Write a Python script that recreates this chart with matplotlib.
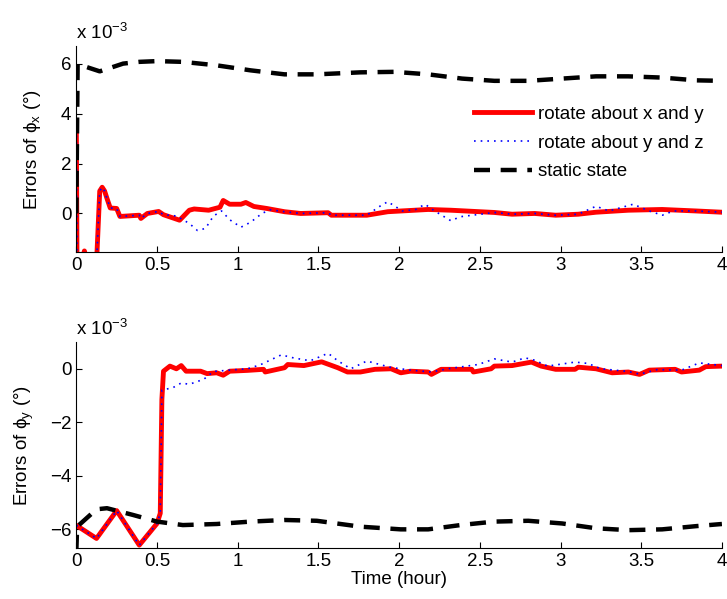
import numpy as np
import matplotlib
matplotlib.use("Agg")
import matplotlib.pyplot as plt

plt.rcParams["font.family"] = ["Liberation Sans", "DejaVu Sans"]
plt.rcParams["mathtext.fontset"] = "custom"
plt.rcParams["mathtext.rm"] = "Liberation Sans"
plt.rcParams["mathtext.it"] = "Liberation Sans:italic"

# --- top panel: errors of phi_x (x 1e-3 deg) ---
tx_red = [0, 0.004, 0.03, 0.05, 0.07, 0.125, 0.145, 0.16, 0.175, 0.19, 0.21, 0.25, 0.27, 0.39, 0.40,
          0.44, 0.51, 0.54, 0.64, 0.70, 0.73, 0.82, 0.89, 0.91, 0.95, 1.02, 1.05, 1.10, 1.18, 1.29,
          1.39, 1.56, 1.58, 1.80, 1.93, 2.18, 2.32, 2.59, 2.70, 2.84, 2.97, 3.11, 3.22, 3.42, 3.63,
          3.84, 4.0]
x_red = [3.65, -2.0, -2.0, -1.5, -2.0, -2.0, 0.9, 1.05, 0.9, 0.6, 0.22, 0.2, -0.12, -0.07, -0.2,
         0.0, 0.08, -0.05, -0.27, 0.13, 0.18, 0.13, 0.25, 0.52, 0.37, 0.37, 0.44, 0.28, 0.2, 0.07,
         0.0, 0.03, -0.07, -0.07, 0.07, 0.16, 0.13, 0.04, -0.03, 0.0, -0.07, -0.03, 0.05, 0.13, 0.16,
         0.1, 0.05]

tx_blue = [0, 0.004, 0.03, 0.05, 0.07, 0.125, 0.145, 0.16, 0.175, 0.19, 0.21, 0.25, 0.27, 0.39, 0.40,
           0.44, 0.51, 0.54, 0.62, 0.70, 0.75, 0.80, 0.85, 0.90, 0.95, 1.02, 1.08, 1.15, 1.20, 1.29,
           1.39, 1.56, 1.58, 1.80, 1.89, 1.93, 2.02, 2.10, 2.16, 2.22, 2.32, 2.38, 2.59, 2.70, 2.84,
           2.97, 3.11, 3.22, 3.30, 3.45, 3.55, 3.63, 3.70, 3.84, 4.0]
x_blue = [3.65, -2.0, -2.0, -1.5, -2.0, -2.0, 0.9, 1.05, 0.9, 0.6, 0.22, 0.2, -0.12, -0.07, -0.2,
          0.0, 0.08, -0.05, -0.1, -0.4, -0.68, -0.6, -0.1, 0.1, -0.25, -0.55, -0.35, 0.0, 0.15, 0.07,
          0.0, 0.03, -0.07, -0.07, 0.33, 0.47, 0.1, 0.15, 0.37, 0.1, -0.29, -0.13, 0.04, -0.03, 0.0,
          -0.07, -0.03, 0.29, 0.1, 0.37, 0.1, -0.07, 0.1, 0.1, 0.05]

tx_static = [0, 0.008, 0.06, 0.145, 0.29, 0.39, 0.5, 0.66, 0.87, 1.08, 1.29, 1.49, 1.76, 1.97, 2.18,
             2.39, 2.59, 2.80, 3.01, 3.22, 3.42, 3.63, 3.84, 4.0]
x_static = [0.0, 6.0, 5.87, 5.69, 6.0, 6.07, 6.1, 6.07, 5.93, 5.73, 5.57, 5.57, 5.65, 5.67, 5.57,
            5.4, 5.31, 5.31, 5.4, 5.49, 5.49, 5.44, 5.33, 5.31]

# --- bottom panel: errors of phi_y (x 1e-3 deg) ---
ty_red = [0, 0.125, 0.25, 0.39, 0.50, 0.52, 0.53, 0.54, 0.58, 0.62, 0.65, 0.68, 0.77, 0.81, 0.87,
          0.91, 0.95, 1.06, 1.16, 1.17, 1.29, 1.31, 1.41, 1.52, 1.62, 1.68, 1.76, 1.85, 1.95, 2.01,
          2.07, 2.18, 2.20, 2.26, 2.45, 2.46, 2.57, 2.59, 2.70, 2.82, 2.88, 2.97, 3.09, 3.11, 3.22,
          3.32, 3.42, 3.49, 3.55, 3.71, 3.75, 3.86, 3.90, 4.0]
y_red = [-5.85, -6.34, -5.3, -6.59, -5.78, -5.4, -1.15, -0.09, 0.1, 0.0, 0.12, -0.09, -0.09, -0.18,
         -0.15, -0.24, -0.09, -0.06, -0.02, -0.12, 0.04, 0.16, 0.12, 0.26, 0.04, -0.12, -0.12, -0.02,
         0.0, -0.15, -0.09, -0.12, -0.21, -0.02, -0.02, -0.12, 0.0, 0.1, 0.12, 0.25, 0.1, -0.02,
         -0.02, 0.06, 0.0, -0.15, -0.12, -0.21, -0.05, -0.02, -0.12, -0.05, 0.08, 0.1]

ty_blue = [0, 0.125, 0.25, 0.39, 0.50, 0.52, 0.53, 0.6, 0.65, 0.70, 0.79, 0.85, 0.95, 1.06, 1.14,
           1.27, 1.35, 1.45, 1.56, 1.62, 1.70, 1.80, 1.88, 1.95, 2.07, 2.20, 2.30, 2.49, 2.59, 2.70,
           2.78, 2.84, 2.92, 3.09, 3.17, 3.25, 3.42, 3.49, 3.60, 3.75, 3.86, 4.0]
y_blue = [-5.85, -6.34, -5.3, -6.59, -5.78, -5.4, -0.8, -0.7, -0.53, -0.58, -0.39, -0.1, -0.05, 0.0,
          0.15, 0.52, 0.4, 0.3, 0.58, 0.3, 0.0, 0.29, 0.16, 0.05, -0.05, -0.12, 0.0, 0.16, 0.37,
          0.25, 0.41, 0.32, 0.1, 0.25, 0.2, 0.0, -0.1, -0.2, -0.03, -0.05, 0.22, 0.12]

ty_static = [0, 0.005, 0.125, 0.19, 0.35, 0.50, 0.66, 0.87, 1.08, 1.29, 1.49, 1.76, 2.01, 2.18,
             2.38, 2.59, 2.80, 3.01, 3.22, 3.42, 3.63, 3.84, 4.0]
y_static = [-6.8, -5.9, -5.25, -5.21, -5.46, -5.71, -5.84, -5.8, -5.71, -5.65, -5.68, -5.9, -6.0,
            -6.0, -5.84, -5.71, -5.68, -5.78, -5.96, -6.03, -6.0, -5.88, -5.8]

labels = ["rotate about x and y", "rotate about y and z", "static state"]

FS = 13.5

fig = plt.figure(figsize=(7.27, 5.99), dpi=100)
ax1 = fig.add_axes([0.105, 0.579, 0.888, 0.344])
ax2 = fig.add_axes([0.105, 0.085, 0.888, 0.344])


def draw(ax, t_r, v_r, t_b, v_b, t_s, v_s):
    ax.plot(t_r, v_r, color="red", linewidth=3.5, solid_joinstyle="round", label=labels[0])
    ax.plot(t_b, v_b, color="blue", linewidth=1.2, linestyle=(0, (1, 3)), label=labels[1])
    ax.plot(t_s, v_s, color="black", linewidth=3.2, linestyle=(0, (3.6, 2.4)), label=labels[2])
    ax.set_xlim(0, 4)
    ax.set_xticks(np.arange(0, 4.01, 0.5))
    ax.set_xticklabels(["0", "0.5", "1", "1.5", "2", "2.5", "3", "3.5", "4"])
    ax.spines["top"].set_visible(False)
    ax.spines["right"].set_visible(False)
    ax.tick_params(direction="in", length=4, labelsize=FS, width=0.8)
    ax.text(0.0, 1.015, r"x 10$^{-3}$", transform=ax.transAxes, fontsize=FS, ha="left", va="bottom")


draw(ax1, tx_red, x_red, tx_blue, x_blue, tx_static, x_static)
ax1.set_ylim(-1.55, 6.7)
ax1.set_yticks([0, 2, 4, 6])
ax1.set_ylabel("Errors of \u03d5$_\\mathrm{x}$ (\u00b0)", fontsize=FS, labelpad=13)
ax1.legend(loc="center left", bbox_to_anchor=(0.59, 0.53), frameon=False, fontsize=FS,
           handlelength=3.1, labelspacing=0.62, handletextpad=0.3)

draw(ax2, ty_red, y_red, ty_blue, y_blue, ty_static, y_static)
ax2.set_ylim(-6.7, 1.0)
ax2.set_yticks([-6, -4, -2, 0])
ax2.set_yticklabels(["\u22126", "\u22124", "\u22122", "0"])
ax2.set_ylabel("Errors of \u03d5$_\\mathrm{y}$ (\u00b0)", fontsize=FS, labelpad=10)
ax2.set_xlabel("Time (hour)", fontsize=FS, labelpad=1)

fig.savefig("out.png", dpi=100)
